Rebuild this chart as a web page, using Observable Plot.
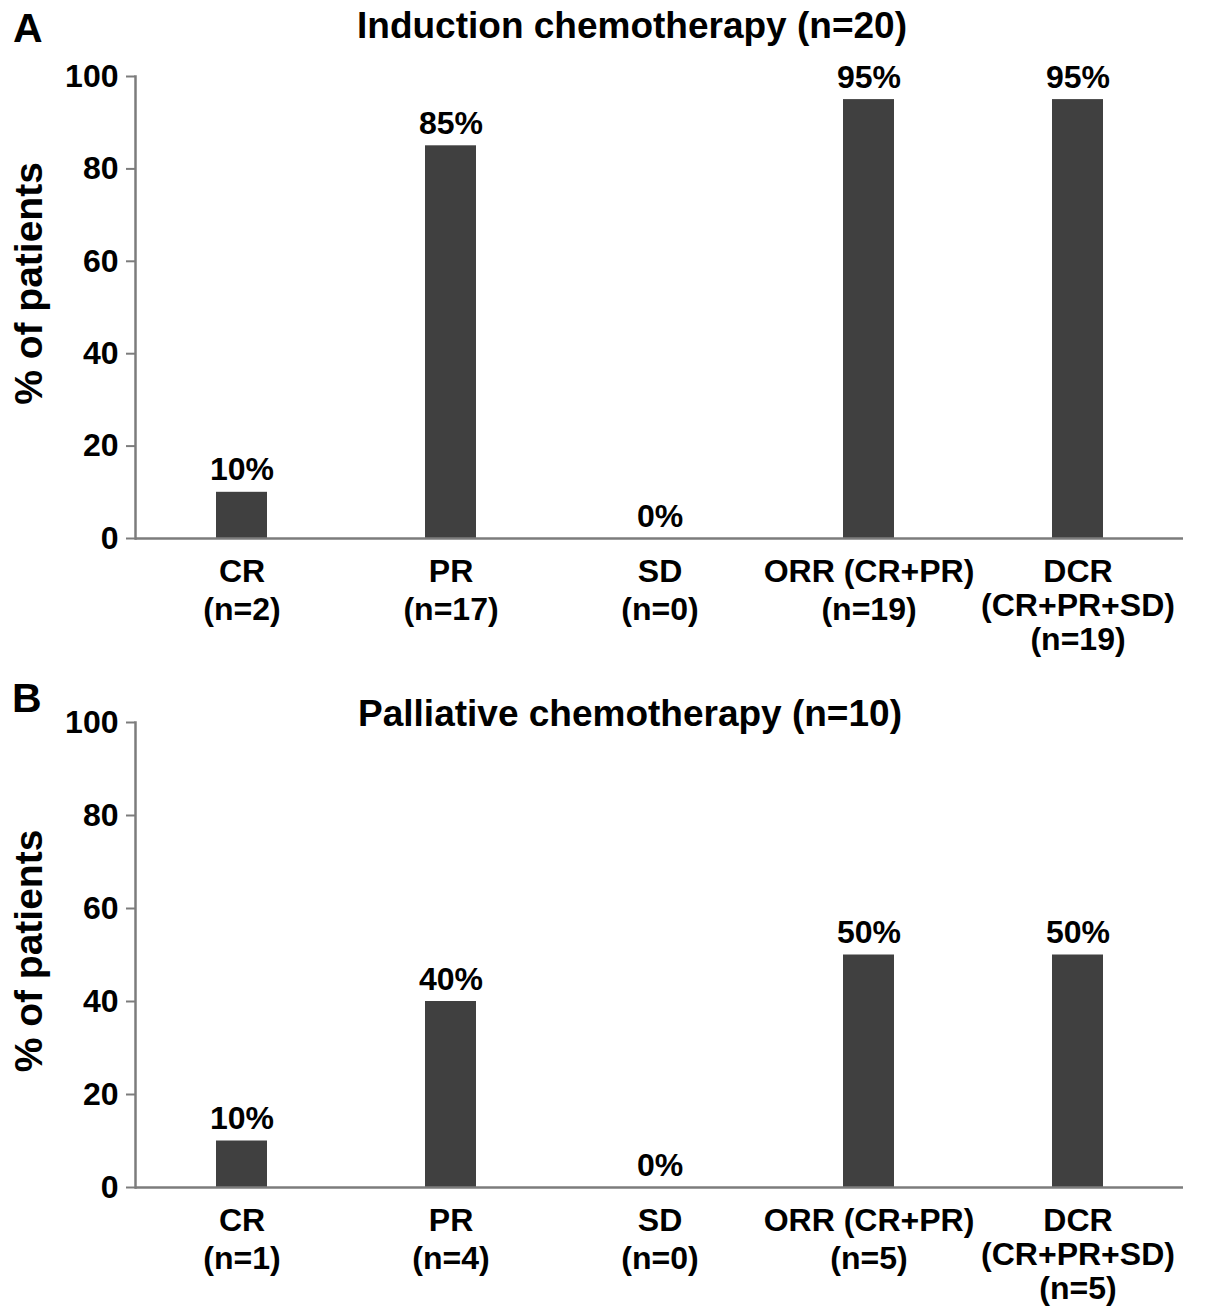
<!DOCTYPE html>
<html>
<head>
<meta charset="utf-8">
<script src="https://cdn.jsdelivr.net/npm/d3@7"></script>
<script src="https://cdn.jsdelivr.net/npm/@observablehq/plot@0.6"></script>
<style>
  body { margin: 0; background: #fff; font-family: "Liberation Sans", Arial, sans-serif; font-weight: bold; }
  .panel { position: relative; width: 1205px; }
  .letter { position: absolute; font-size: 41px; line-height: 1; white-space: nowrap; }
  .title { position: absolute; font-size: 37px; line-height: 1; white-space: nowrap; transform: translateX(-50%); }
  svg { display: block; overflow: visible; }
</style>
</head>
<body>
<div id="panelA" class="panel">
  <div class="letter" style="left:13px; top:8px;">A</div>
  <div class="title" style="left:632px; top:7px;">Induction chemotherapy (n=20)</div>
</div>
<div id="panelB" class="panel">
  <div class="letter" style="left:12px; top:18px;">B</div>
  <div class="title" style="left:630px; top:35px;">Palliative chemotherapy (n=10)</div>
</div>
<script>
// response categories (x axis)
const categories = ["CR", "PR", "SD", "ORR (CR+PR)", "DCR\n(CR+PR+SD)"];
const yTicks = [0, 20, 40, 60, 80, 100];
const yLabel = "% of patients";

// A: induction chemotherapy
const inductionPct = [10, 85, 0, 95, 95];
const inductionN = [2, 17, 0, 19, 19];

// B: palliative chemotherapy
const palliativePct = [10, 40, 0, 50, 50];
const palliativeN = [1, 4, 0, 5, 5];

const axisGray = "#7c7c7c";
const barColor = "#404040";
const font = "Liberation Sans, Arial, sans-serif";

function makePanel(pct, ns, opts) {
    const rows = categories.map((c, i) => ({cat: c, pct: pct[i], n: ns[i]}));
    const tickText = new Map(rows.map(d => [d.cat, d.cat + "\n(n=" + d.n + ")"]));
    // the three-line label is set tighter than the two-line ones
    const twoLine = categories.filter(c => !c.includes("\n"));
    const threeLine = categories.filter(c => c.includes("\n"));

    return Plot.plot({
        width: 1205,
        height: opts.height,
        marginTop: opts.marginTop,
        marginBottom: opts.marginBottom,
        marginLeft: 135,
        marginRight: 22,
        x: {type: "band", domain: categories, paddingInner: 0.757, paddingOuter: 0.378},
        y: {domain: [0, 100]},
        style: {fontFamily: font, fontWeight: "bold", color: "black", background: "white", overflow: "visible"},
        marks: [
            Plot.barY(rows, {x: "cat", y: "pct", fill: barColor}),
            Plot.text(rows, {
                x: "cat", y: "pct", text: d => d.pct + "%",
                lineAnchor: "bottom", dy: -12, fontSize: 32, fontWeight: "bold", fill: "black"
            }),
            Plot.frame({anchor: "left", stroke: axisGray, strokeWidth: 2.5}),
            Plot.ruleY([0], {stroke: axisGray, strokeWidth: 2.5}),
            Plot.axisY({
                ticks: yTicks, tickSize: 9, tickPadding: 8, fontSize: 32,
                stroke: axisGray, strokeWidth: 2, strokeOpacity: 1, fill: "black", label: null
            }),
            Plot.axisX({
                ticks: twoLine, tickSize: 0, tickPadding: 16, fontSize: 32, lineHeight: 1.19,
                fill: "black", label: null, tickFormat: d => tickText.get(d)
            }),
            Plot.axisX({
                ticks: threeLine, tickSize: 0, tickPadding: 20, fontSize: 32, lineHeight: 1.05,
                fill: "black", label: null, tickFormat: d => tickText.get(d)
            }),
            Plot.text([yLabel], {
                frameAnchor: "left", rotate: -90, dx: -106, dy: opts.labelDy,
                textAnchor: "middle", lineAnchor: "middle", fontSize: 39, fontWeight: "bold", fill: "black"
            })
        ]
    });
}

const plotA = makePanel(inductionPct, inductionN, {height: 660, marginTop: 76, marginBottom: 122, labelDy: -24});
const plotB = makePanel(palliativePct, palliativeN, {height: 652, marginTop: 62, marginBottom: 125, labelDy: -4});

d3.select("#panelA").append(() => plotA);
d3.select("#panelB").append(() => plotB);
</script>
</body>
</html>
